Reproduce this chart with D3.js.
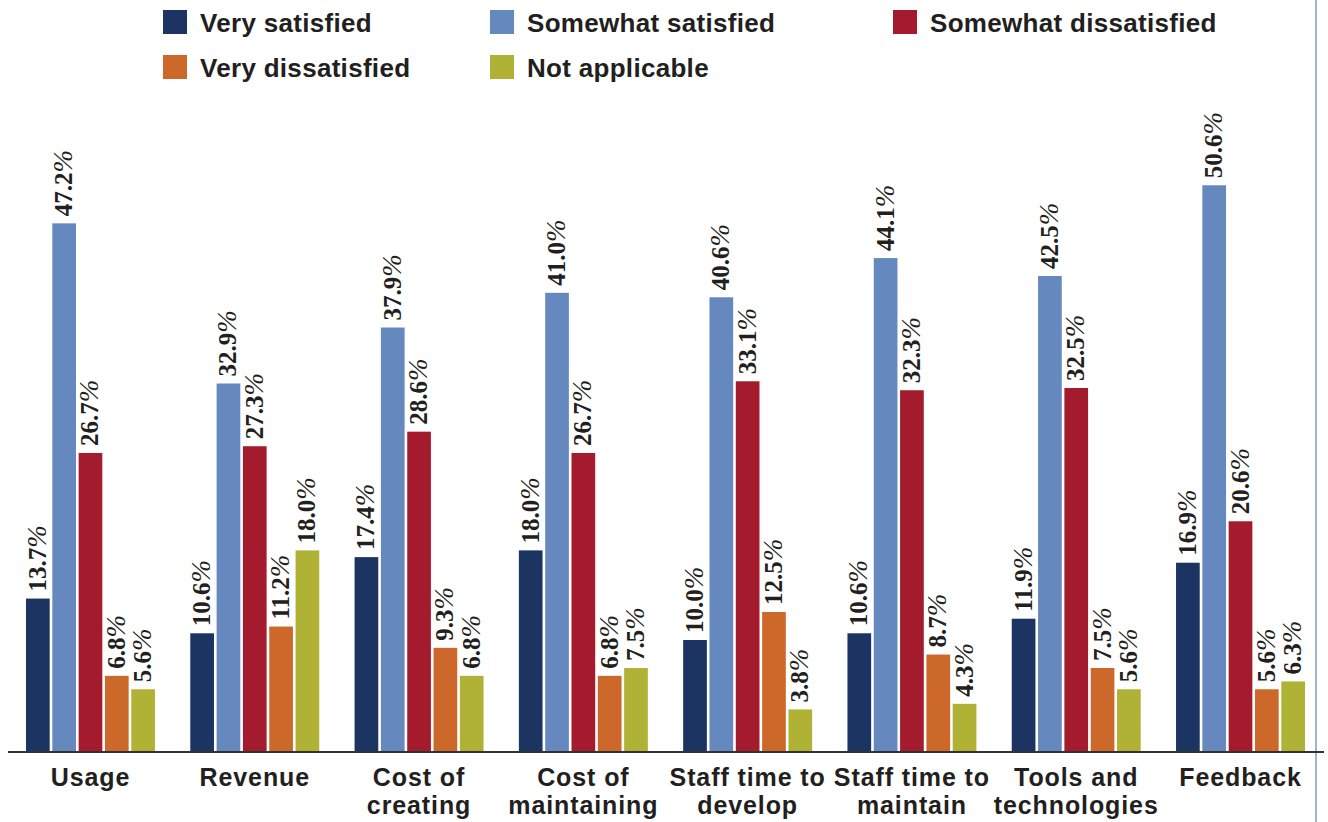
<!DOCTYPE html>
<html>
<head>
<meta charset="utf-8">
<script src="https://cdn.jsdelivr.net/npm/d3@7"></script>
<style>
  html, body { margin: 0; padding: 0; background: #fff; }
  svg { display: block; }
</style>
</head>
<body>
<svg id="chart" width="1328" height="822"></svg>
<script>
// Satisfaction survey results, percent of respondents per area
const categories = [
  ["Usage"],
  ["Revenue"],
  ["Cost of", "creating"],
  ["Cost of", "maintaining"],
  ["Staff time to", "develop"],
  ["Staff time to", "maintain"],
  ["Tools and", "technologies"],
  ["Feedback"]
];
const seriesNames = ["Very satisfied", "Somewhat satisfied", "Somewhat dissatisfied", "Very dissatisfied", "Not applicable"];
const seriesColors = ["#1b3462", "#6588be", "#a31b2d", "#cc6829", "#b0b235"];

const verySatisfied        = [13.7, 10.6, 17.4, 18.0, 10.0, 10.6, 11.9, 16.9];
const somewhatSatisfied    = [47.2, 32.9, 37.9, 41.0, 40.6, 44.1, 42.5, 50.6];
const somewhatDissatisfied = [26.7, 27.3, 28.6, 26.7, 33.1, 32.3, 32.5, 20.6];
const veryDissatisfied     = [6.8, 11.2, 9.3, 6.8, 12.5, 8.7, 7.5, 5.6];
const notApplicable        = [5.6, 18.0, 6.8, 7.5, 3.8, 4.3, 5.6, 6.3];

const seriesValues = [verySatisfied, somewhatSatisfied, somewhatDissatisfied, veryDissatisfied, notApplicable];

const svg = d3.select("#chart");
const baseline = 752;
const sansFont = "'Liberation Sans', Arial, Helvetica, sans-serif";
const serifFont = "'Liberation Serif', 'Times New Roman', serif";
const textColor = "#231f20";

const catKeys = categories.map(c => c.join(" "));

const x = d3.scaleBand()
  .domain(catKeys)
  .range([26, 1305])
  .paddingInner(0.215)
  .paddingOuter(0);

const xInner = d3.scaleBand()
  .domain(seriesNames)
  .range([0, x.bandwidth()])
  .paddingInner(0.1)
  .paddingOuter(0);

const y = d3.scaleLinear()
  .domain([0, 60])
  .range([baseline, baseline - 672]);

// right-hand frame rule
svg.append("line")
  .attr("x1", 1316).attr("x2", 1316)
  .attr("y1", 0).attr("y2", 822)
  .attr("stroke", "#8199c9")
  .attr("stroke-width", 1.5);

// bars
const groups = svg.append("g").selectAll("g")
  .data(catKeys)
  .join("g")
  .attr("transform", d => `translate(${x(d)},0)`);

const cells = groups.selectAll("g.cell")
  .data((d, i) => seriesNames.map((s, j) => ({ series: s, j, value: seriesValues[j][i] })))
  .join("g")
  .attr("class", "cell");

cells.append("rect")
  .attr("x", d => xInner(d.series))
  .attr("y", d => y(d.value))
  .attr("width", xInner.bandwidth())
  .attr("height", d => baseline - y(d.value))
  .attr("fill", d => seriesColors[d.j]);

// rotated value labels
const labels = cells.append("text")
  .attr("transform", d => `translate(${xInner(d.series) + xInner.bandwidth() / 2 + 8},${y(d.value) - 7}) rotate(-90)`)
  .attr("font-family", serifFont)
  .attr("font-size", 25)
  .attr("fill", textColor);

labels.append("tspan")
  .attr("font-weight", "bold")
  .text(d => d.value.toFixed(1));
labels.append("tspan")
  .attr("font-style", "italic")
  .attr("font-weight", "normal")
  .attr("font-size", 27)
  .text("%");

// baseline axis
const xAxis = d3.axisBottom(x).tickSize(0).tickFormat("");
const axisG = svg.append("g")
  .attr("transform", `translate(0,${baseline})`)
  .call(xAxis);
axisG.select(".domain").remove();
axisG.append("line")
  .attr("x1", 8).attr("x2", 1324)
  .attr("stroke", "#333")
  .attr("stroke-width", 2.2);

// category labels, one text per line
const catLabels = svg.append("g").selectAll("g")
  .data(categories)
  .join("g")
  .attr("transform", (d, i) => `translate(${x(catKeys[i]) + x.bandwidth() / 2},0)`);

catLabels.selectAll("text")
  .data(d => d)
  .join("text")
  .attr("x", 0)
  .attr("y", (d, k) => 786 + k * 28)
  .attr("text-anchor", "middle")
  .attr("font-family", sansFont)
  .attr("font-weight", "bold")
  .attr("font-size", 25)
  .attr("letter-spacing", 0.9)
  .attr("fill", textColor)
  .text(d => d);

// legend
const legendPos = [
  { x: 163, y: 10 },
  { x: 490, y: 10 },
  { x: 893, y: 10 },
  { x: 163, y: 55 },
  { x: 490, y: 55 }
];
const legend = svg.append("g").selectAll("g")
  .data(seriesNames)
  .join("g")
  .attr("transform", (d, i) => `translate(${legendPos[i].x},${legendPos[i].y})`);

legend.append("rect")
  .attr("width", 24).attr("height", 24)
  .attr("fill", (d, i) => seriesColors[i]);

legend.append("text")
  .attr("x", 37)
  .attr("y", 22)
  .attr("font-family", sansFont)
  .attr("font-weight", "bold")
  .attr("font-size", 26)
  .attr("letter-spacing", 0.3)
  .attr("fill", textColor)
  .text(d => d);
</script>
</body>
</html>
